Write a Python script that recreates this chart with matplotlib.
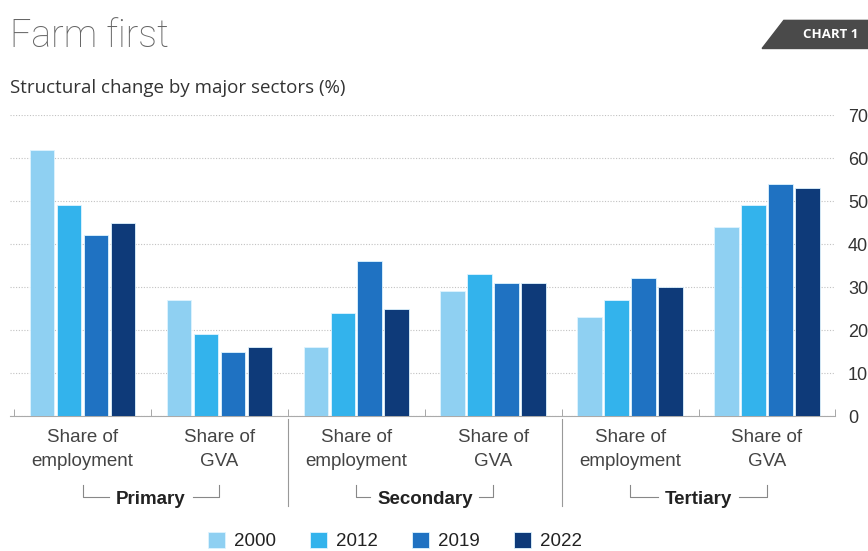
import matplotlib
matplotlib.use('Agg')
import matplotlib.pyplot as plt
from matplotlib.patches import Polygon
from matplotlib.lines import Line2D
import numpy as np

years = ['2000', '2012', '2019', '2022']
colors = ['#8fd0f2', '#33b3ec', '#1f72c2', '#0e3a79']
groups = ['Share of\nemployment', 'Share of\nGVA'] * 3
sectors = ['Primary', 'Secondary', 'Tertiary']

# share (%) per group, one list per year
v2000 = [62, 27, 16, 29, 23, 44]
v2012 = [49, 19, 24, 33, 27, 49]
v2019 = [42, 15, 36, 31, 32, 54]
v2022 = [45, 16, 25, 31, 30, 53]
series = [v2000, v2012, v2019, v2022]

plt.rcParams['font.family'] = ['Liberation Sans', 'DejaVu Sans']

fig = plt.figure(figsize=(8.68, 5.51), dpi=100)
ax = fig.add_axes([0.0115, 0.245, 0.951, 0.546])

x = np.arange(len(groups))
w = 0.18
for i, (vals, c) in enumerate(zip(series, colors)):
    ax.bar(x + (i - 1.5) * 0.197, vals, w, color=c, edgecolor='#dff4ff',
           linewidth=0.6, label=years[i], zorder=3)

ax.set_xlim(-0.53, 5.49)
ax.set_ylim(0, 70)
ax.set_yticks(range(0, 71, 10))
ax.yaxis.tick_right()
ax.tick_params(axis='y', length=0, pad=9, labelsize=13, labelcolor='#333333')
ax.grid(axis='y', color='#c2c2c2', linestyle=(0, (1, 1.5)), linewidth=0.8, zorder=0)

ax.set_xticks(x)
ax.set_xticklabels(groups, fontsize=13.5, color='#444444', linespacing=1.55)
ax.tick_params(axis='x', length=0, pad=9)
ax.set_xticks(np.arange(-0.5, 5.6, 1), minor=True)
ax.tick_params(axis='x', which='minor', direction='in', length=5, color='#999999')

for s in ['top', 'left', 'right']:
    ax.spines[s].set_visible(False)
ax.spines['bottom'].set_color('#aaaaaa')

# sector brackets: from the centre of each pair's groups to the label, with a gap round it
tr = ax.get_xaxis_transform()
renderer = fig.canvas.get_renderer()
for k, name in enumerate(sectors):
    c = 2 * k + 0.5
    t = ax.text(c, -0.277, name, transform=tr, ha='center', va='center',
                fontsize=13.5, fontweight='bold', color='#222222')
    bb = t.get_window_extent(renderer).transformed(ax.transData.inverted())
    gap = 0.05
    for x_end, x_in in ((c - 0.5, bb.x0 - gap), (c + 0.5, bb.x1 + gap)):
        ax.add_line(Line2D([x_end, x_end, x_in], [-0.229, -0.269, -0.269], transform=tr,
                           color='#888888', linewidth=0.8, clip_on=False))
    if k > 0:
        ax.add_line(Line2D([2 * k - 0.5] * 2, [-0.01, -0.30], transform=tr,
                           color='#999999', linewidth=0.8, clip_on=False))

fig.text(0.012, 0.935, 'Farm first', fontsize=27, color='#666666',
         family=['Roboto', 'DejaVu Sans'], fontweight='light', va='center')
fig.text(0.012, 0.84, 'Structural change by major sectors (%)', fontsize=13.5,
         color='#333333', family=['Open Sans', 'DejaVu Sans'], va='center')

badge = Polygon([[0.878, 0.912], [0.903, 0.963], [1.0, 0.963], [1.0, 0.912]],
                closed=True, transform=fig.transFigure, color='#4a4a4a')
fig.patches.append(badge)
fig.text(0.957, 0.937, 'CHART 1', fontsize=9.5, color='white', fontweight='bold',
         family=['Open Sans', 'DejaVu Sans'], ha='center', va='center')

fig.legend(loc='center', bbox_to_anchor=(0.455, 0.018), ncol=4, frameon=False,
           fontsize=13.5, handlelength=0.9, handleheight=0.9, columnspacing=1.8,
           handletextpad=0.5, labelcolor='#222222')

fig.savefig('out.png', dpi=100)
